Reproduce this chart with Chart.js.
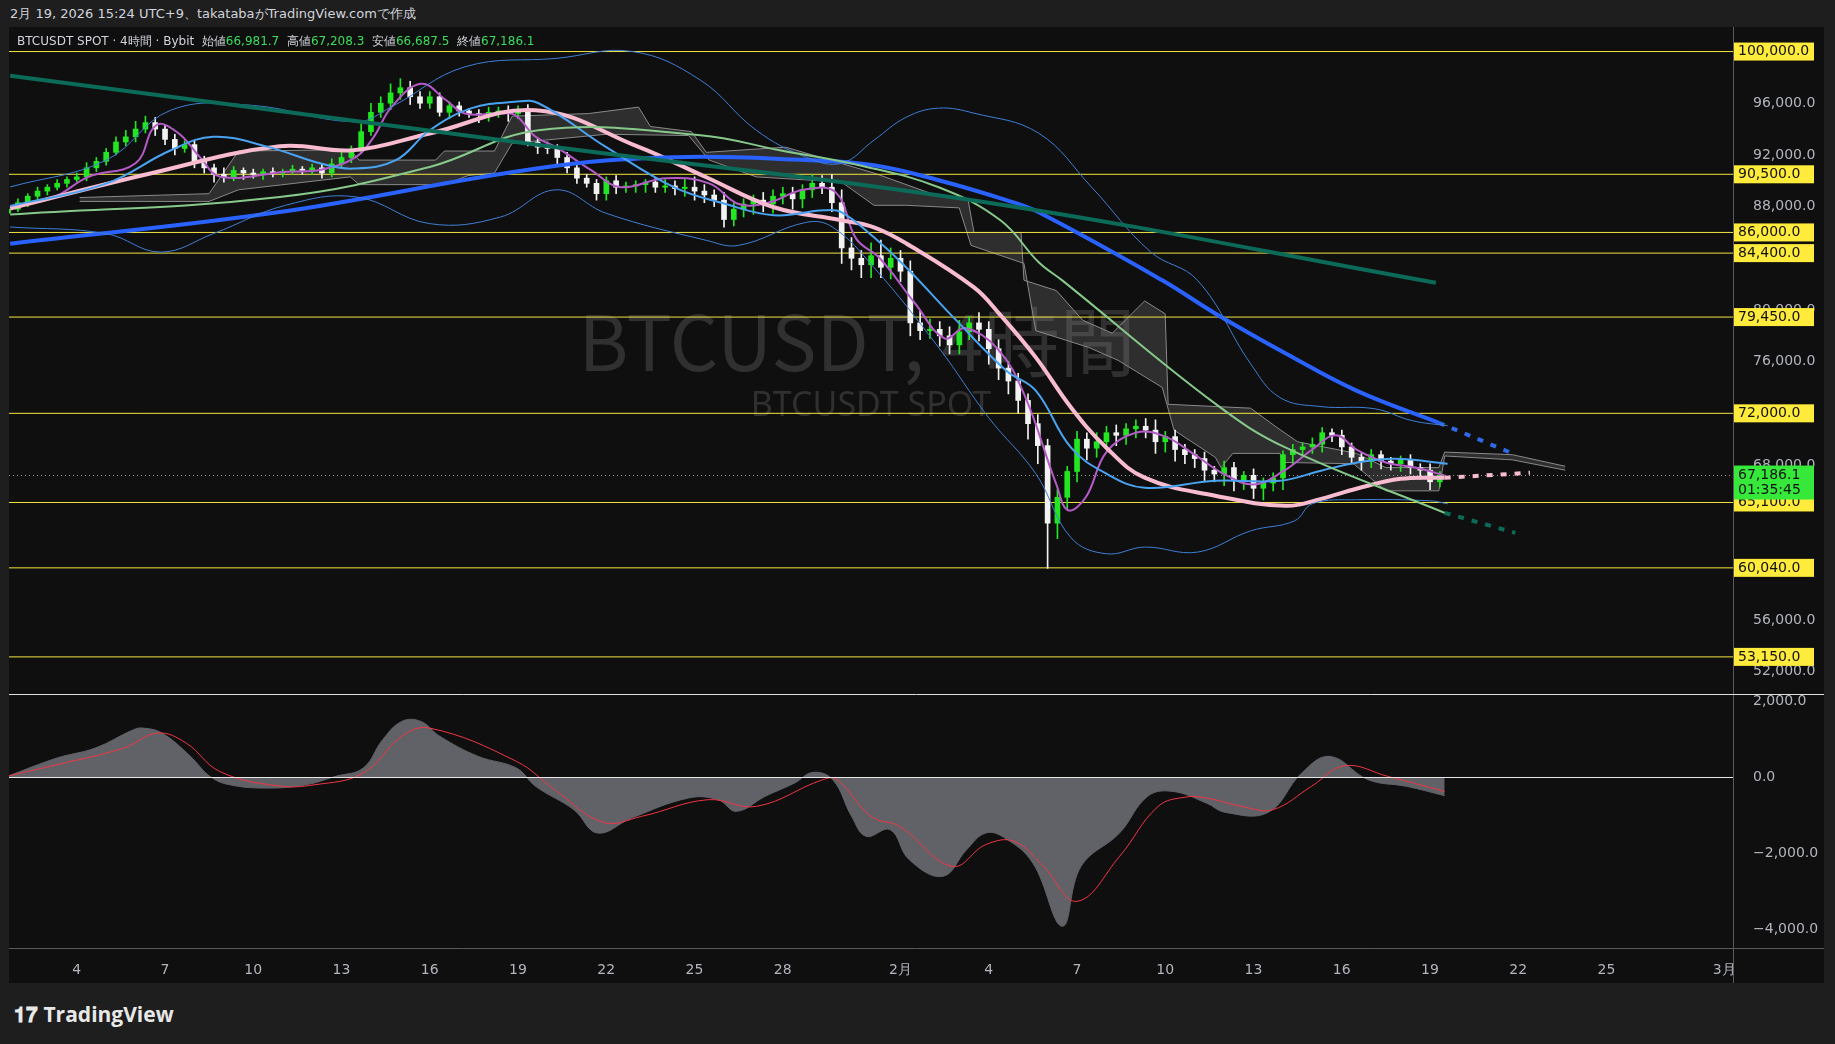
<!DOCTYPE html>
<html>
<head>
<meta charset="utf-8">
<script src="https://cdn.jsdelivr.net/npm/chart.js@4"></script>
<style>
  body { margin:0; background:#1e1e1e; width:1835px; height:1044px; overflow:hidden; font-family:"DejaVu Sans", sans-serif; }
  #hdr { position:absolute; left:10px; top:5px; color:#d1d4dc; font-size:13px; }
  #wrap { position:absolute; left:9px; top:27px; width:1815px; height:956px; background:#0f0f0f; }
  #c1 { position:absolute; left:0; top:0; }
  #c2 { position:absolute; left:0; top:668px; }
  #leg { position:absolute; left:8px; top:6px; color:#d1d4dc; font-size:12px; z-index:2; }
  #leg b { color:#3ddc5a; font-weight:normal; }
  #logo { position:absolute; left:14px; top:1000px; color:#e8e8e8; font-size:21px; font-weight:bold; font-family:"Open Sans", sans-serif; }
</style>
</head>
<body>
<div id="hdr">2月 19, 2026 15:24 UTC+9、takatabaがTradingView.comで作成</div>
<div id="wrap">
  <div id="leg">BTCUSDT SPOT · 4時間 · Bybit&nbsp; 始値<b>66,981.7</b>&nbsp; 高値<b>67,208.3</b>&nbsp; 安値<b>66,687.5</b>&nbsp; 終値<b>67,186.1</b></div>
  <canvas id="c1" width="1815" height="668"></canvas>
  <canvas id="c2" width="1815" height="288"></canvas>
</div>
<div id="logo">𝟏𝟕 TradingView</div>
<script>
// x = day number counted from 1 Jan (1 Feb = 32, 1 Mar = 60); bars every 8h
var startDay = 1.67;
var firstOpen = 87500;
var closes = [
  87800,
  88300, 88800, 89200,   // Jan 2
  89500, 89800, 90100,
  90300, 91000, 91500,
  92200, 93000, 93400,
  94000, 94500, 94000,   // Jan 6
  93200, 92500, 92800,
  91500, 91000, 90500,
  90300, 90800, 90600,
  90500, 90700, 90600,   // Jan 10
  90700, 90900, 90800,
  91000, 90600, 91300,
  91800, 92300, 93800,
  95300, 96000, 96800,   // Jan 14
  97200, 96500, 96000,
  96500, 95300, 95800,
  95400, 95200, 95100,
  95300, 95400, 95200,   // Jan 18
  95500, 93000, 92600,
  92500, 91800, 91000,
  90200, 89800, 89000,
  90000, 89500, 89600,   // Jan 22
  89700, 89900, 89500,
  89600, 89400, 89500,
  89200, 88900, 88500,
  87000, 87800, 88200,   // Jan 26
  88500, 88200, 88800,
  89000, 88600, 89300,
  89800, 89500, 88300,
  84800, 84000, 83500,   // Jan 30
  84200, 83300, 84000,
  83000, 79000, 78400,   // Feb 1
  78500, 78000, 77300,
  78300, 79000, 78500,
  77000, 75500, 74500,   // Feb 4
  73000, 71200, 69500,
  63500, 65500, 67500,
  70000, 69300, 69800,
  70500, 70300, 70800,   // Feb 8
  71000, 70700, 69800,
  70200, 69200, 68800,
  68500, 67600, 67300,
  67800, 66800, 67200,   // Feb 12
  66200, 66600, 67000,
  68800, 69200, 69400,
  69600, 70500, 70300,
  69400, 68600, 68300,   // Feb 16
  68800, 68300, 68100,
  68400, 67800, 67600,
  66700, 67186.1
];
// wick lengths above / below the body, in hundreds (one row = ten days)
var wickUp = [
  2,
  3,2,3,  2,3,2,  3,4,3,  3,4,5,  6,5,4,  3,4,3,  3,4,3,  5,3,2,  3,2,3,  2,3,2,     // Jan 2-11
  3,3,4,  5,4,6,  7,5,7,  7,5,4,  4,3,3,  3,2,3,  4,3,4,  3,4,3,  4,3,4,  4,3,3,     // Jan 12-21
  3,4,3,  3,2,3,  5,4,6,  8,5,4,  6,5,4,  4,6,5,  5,5,4,  7,6,10, 10,8,6, 10,12,8,   // Jan 22-31
  6,8,9,  8,6,7,  9,5,8,  6,7,5,  6,5,7,  5,6,4,  6,5,7,  5,6,4,  5,6,8,  4,5,4,     // Feb 1-10
  4,5,3,  5,4,3,  5,4,4,  3,4,3,  5,4,3,  4,3,3,                                     // Feb 11-16
  4,3,3,  3,4,3,                                                                      // Feb 17-18
  5,3
];
var wickDn = [
  2,
  2,3,2,  3,2,3,  2,3,3,  3,2,3,  4,3,5,  4,5,3,  5,4,6,  4,3,5,  3,4,3,  3,2,3,     // Jan 2-11
  3,4,3,  3,4,2,  3,4,5,  5,6,4,  4,3,5,  4,3,6,  5,4,6,  4,3,5,  4,5,4,  4,3,5,     // Jan 12-21
  5,5,4,  5,6,4,  4,5,6,  7,6,5,  6,5,6,  8,6,7,  6,8,7,  6,5,7,  12,9,10, 10,8,9,   // Jan 22-31
  8,10,7, 6,8,7,  7,6,9,  12,9,10, 10,12,14, 35,12,9, 8,9,7, 6,8,7, 7,6,9, 8,9,7,    // Feb 1-10
  7,8,6,  9,8,7,  8,9,6,  9,7,6,  5,6,5,  6,5,7,                                     // Feb 11-16
  5,6,5,  6,5,7,                                                                      // Feb 17-18
  6,4
];

var levels = [100000, 90500, 86000, 84400, 79450, 72000, 65100, 60040, 53150];
var lastPrice = 67186.1;
var countdown = '01:35:45';
var priceTicks = [52000, 56000, 68000, 76000, 80000, 88000, 92000, 96000];
var macdTicks = [-4000, -2000, 0, 2000];

var tealLine = [[1.74,98120],[20.3,92600],[35,88300],[50.2,82100]];
var blueThick = [[1.74,85130],[10.9,87580],[19.7,90970],[24.3,91820],[28.8,91600],[31.1,91200],[33.3,90040],[35.6,88500],[36.7,87560],[40.9,82300],[42.7,79730],[45.1,76630],[47.5,73760],[50.3,71270]];
var blueThickExt = [[50.3,71270],[52.8,68900]];
var pinkLine = [[1.74,87850],[6.5,90560],[10.9,92670],[13.4,92360],[16,93660],[19.6,95460],[23.1,92620],[25.4,90270],[27.7,87950],[30,86940],[31.1,86400],[32.2,85150],[34.5,81750],[35.4,79600],[36.6,76330],[37.8,72450],[39,69340],[40.3,67020],[42.7,65620],[45.1,64840],[46.3,65380],[47.5,66160],[49,66930],[50.5,67010]];
var pinkExt = [[50.5,67010],[53.4,67400]];
var greenLine = [[1.74,87380],[10.9,88750],[16,91070],[19.7,93910],[25.2,93530],[27.9,92360],[30.6,91200],[33.3,89500],[35.4,86940],[36.7,83690],[37.5,82290],[42.7,72750],[45.1,69340],[50.5,64300]];
var greenExt = [[50.5,64300],[52.9,62750]];
var bbMid = [[1.74,88050],[5,89780],[7.2,92360],[8.65,93400],[10.5,92620],[12.3,91330],[13.4,90940],[14.85,91590],[16,93910],[17.4,95600],[18.9,96110],[19.7,96000],[22,92600],[24.3,89500],[26,88240],[27.7,87330],[29.4,87710],[30,87560],[31.1,85620],[32.2,83290],[33.9,79190],[35.6,75300],[36.6,73760],[37.8,69340],[39,67330],[40.3,66240],[42.7,66780],[44.9,66780],[46.3,67560],[47.5,68180],[48.8,68490],[50.6,68100]];
var bbUp = [[1.74,89520],[5,91590],[7.2,95460],[9.9,95850],[13.5,94560],[14.7,95720],[17.2,98820],[20.3,99470],[22.9,100000],[25.2,97790],[27.1,93910],[28.8,91820],[30,91360],[31.1,93140],[32.2,94920],[33.3,95620],[34.5,95230],[36.7,93680],[38.5,89500],[40.5,84500],[42.1,82290],[43.9,75850],[44.9,73220],[46.3,72520],[48.1,72360],[49.4,71430],[50.6,71040]];
var bbLo = [[1.74,86420],[5,85910],[6.85,84480],[8.65,85910],[11.1,88100],[13.5,88750],[16,86680],[18.4,87190],[20.3,89300],[22,87480],[25.4,85390],[26.5,85000],[28.8,86780],[29.7,86400],[31.1,83290],[33.3,77090],[35,71660],[36.6,67330],[37.8,62370],[39,61130],[40.3,61650],[42.1,61260],[43.9,62900],[45.4,63680],[46,65000],[47.5,65310],[50,65230],[50.6,65000]];
var purpleLine = [[1.74,87950],[3.2,88700],[4.4,90300],[6,91350],[6.7,94300],[7.45,93700],[8.2,91800],[8.9,90300],[11.1,90700],[12.3,90850],[13.5,91850],[14.1,93400],[14.7,95700],[15.7,97500],[16.55,96250],[17.2,95200],[18.4,95200],[18.9,95100],[19.6,93400],[20.3,92600],[21.5,90800],[22.5,89500],[24,90200],[25.5,89800],[26.5,88200],[27.5,88300],[28.7,89300],[29.8,89100],[30.5,85500],[31.3,84000],[32.5,80500],[33.5,77800],[34.2,78600],[35.3,77000],[36.2,73500],[37.3,66500],[37.7,64500],[38.3,65500],[39,69000],[40,70500],[41,70200],[42,68800],[43,67300],[44,66500],[45,67500],[46,69200],[46.8,70300],[47.5,69200],[48.5,68200],[49.5,67800],[50.5,67200]];
var cloudTop = [[4.1,88700],[8.5,89000],[9.5,92300],[13.3,92400],[13.6,91600],[16.2,91600],[16.5,92300],[18.2,92300],[18.8,95000],[21.4,95200],[23.1,95700],[23.5,94200],[24.9,93800],[25.4,92200],[28.1,92600],[31.1,90600],[33.3,88800],[34.3,88500],[34.5,86000],[36.1,86000],[36.2,82300],[37.3,81500],[38.2,79200],[39.2,78200],[40.3,80700],[41,79700],[41.1,72700],[43.9,72400],[44.8,70900],[45.5,69800],[47.5,68900],[48.5,67800],[50.3,67800],[50.5,69000],[52.8,68800],[54.6,67900]];
var cloudBot = [[4.1,88400],[8.5,88400],[9.5,89300],[13.3,90300],[13.6,89700],[16.5,89700],[17.3,90400],[18.2,90600],[18.8,92900],[22,93600],[24.8,93500],[25.5,91600],[27.1,90300],[30,89900],[31.1,88100],[32.2,88100],[34,87900],[34.4,85000],[36.2,83600],[36.6,78400],[38.4,77100],[39.4,76100],[40.9,74000],[41.3,70700],[42.7,68600],[42.9,67800],[43.3,68900],[44.9,68900],[45,68200],[47.4,68100],[48.5,66000],[50.3,66000],[50.5,68700],[52.8,68400],[54.6,67600]];

var macdLine = [[1.7,35],[3.33,500],[4.63,763],[5.93,1245],[6.25,1290],[6.9,1158],[7.87,544],[8.53,18],[9.19,-202],[10.5,-290],[11.8,-202],[12.8,18],[13.74,237],[14.4,982],[15.05,1465],[15.7,1465],[16.35,1070],[17.65,544],[18.95,237],[19.6,-245],[20.9,-860],[21.7,-1473],[22.86,-1079],[24.8,-552],[25.8,-596],[26.43,-903],[27.4,-509],[28.4,-158],[29.03,123],[29.7,-70],[30.34,-1035],[30.83,-1561],[31.65,-1386],[32.3,-2175],[33.44,-2613],[34.25,-1912],[34.9,-1473],[35.55,-1605],[36.5,-2263],[37.5,-3929],[38.14,-2350],[39.45,-1473],[40.4,-509],[41.25,-377],[42.4,-684],[43.04,-930],[44.5,-930],[45.64,105],[46.6,544],[47.9,-70],[49.2,-245],[50.5,-491]];
var signalLine = [[1.7,35],[3.33,325],[5.6,763],[6.75,1158],[7.72,895],[8.86,149],[10.8,-228],[12.1,-202],[13.74,105],[15.05,1070],[16,1290],[18.95,412],[20.25,-333],[21.9,-1193],[23.2,-1035],[25.45,-596],[27.1,-772],[29.36,-70],[29.85,-70],[31,-1035],[31.97,-1298],[33.76,-2350],[34.9,-1780],[35.87,-1693],[36.86,-2350],[38,-3271],[39.45,-2087],[40.76,-772],[41.7,-526],[42.4,-552],[43.7,-789],[44.66,-860],[45.97,-245],[47.1,298],[48.57,18],[50.5,-377]];
var dayTicks = [4, 7, 10, 13, 16, 19, 22, 25, 28, 32, 35, 38, 41, 44, 47, 50, 53, 56, 60];

var X_MIN = 1.7, X_MAX = 60.3, AXIS_W = 91;
var P_MIN = 50200, P_MAX = 101900;
function pts(a) { return a.map(function (p) { return { x: p[0], y: p[1] }; }); }
function fmt(v) { return (v < 0 ? '\u2212' : '') + Math.abs(v).toLocaleString('en-US', { minimumFractionDigits: 1, maximumFractionDigits: 1 }); }

var bodies = [], wicks = [], bodyCols = [];
var prev = firstOpen;
closes.forEach(function (c, i) {
  var x = startDay + i / 3;
  var o = prev;
  bodies.push({ x: x, y: [o, c] });
  wicks.push({ x: x, y: [Math.min(o, c) - wickDn[i] * 100, Math.max(o, c) + wickUp[i] * 100] });
  bodyCols.push(c >= o ? '#22e622' : '#f2f2f2');
  prev = c;
});

function line(data, color, width, extra) {
  return Object.assign({ type: 'line', data: pts(data), borderColor: color, borderWidth: width, pointRadius: 0, tension: 0.4, fill: false, order: 1 }, extra || {});
}

var datasets = [
  line(cloudTop, '#8a8a8a', 1, { tension: 0, fill: '+1', backgroundColor: 'rgba(130,130,130,0.28)', order: 9 }),
  line(cloudBot, '#8a8a8a', 1, { tension: 0, order: 9 }),
  { type: 'bar', data: wicks, backgroundColor: bodyCols, barThickness: 1, grouped: false, order: 6 },
  { type: 'bar', data: bodies, backgroundColor: bodyCols, barThickness: 5, minBarLength: 1, grouped: false, order: 5 },
  line(tealLine, '#0b6b58', 4),
  line(greenLine, '#86c98a', 2),
  line(bbUp, '#3f7fd6', 1),
  line(bbLo, '#3f7fd6', 1),
  line(bbMid, '#4aa3f0', 2),
  line(blueThick, '#2962ff', 4),
  line(pinkLine, '#f8bbd0', 4),
  line(purpleLine, '#b45bc8', 2),
  line(blueThickExt, '#2f6ae8', 4, { borderDash: [6, 8], tension: 0 }),
  line(pinkExt, '#f8bbd0', 4, { borderDash: [6, 8], tension: 0 }),
  line(greenExt, '#0b6b58', 4, { borderDash: [6, 8], tension: 0 }),
  line([[X_MIN, lastPrice], [X_MAX, lastPrice]], '#9a9a9a', 1, { borderDash: [1, 3], tension: 0, order: 8 })
];
levels.forEach(function (v) {
  datasets.push(line([[X_MIN, v], [X_MAX, v]], '#f5e642', 1, { tension: 0, order: 8 }));
});

// right-axis labels drawn by hand (chart.js tick padding would shrink the plot area)
function drawTicks(c, a, y, list) {
  c.fillStyle = '#b2b5be';
  c.font = '14px "DejaVu Sans", sans-serif';
  c.textBaseline = 'middle'; c.textAlign = 'left';
  list.forEach(function (v) { c.fillText(fmt(v), a.right + 20, y.getPixelForValue(v)); });
}

var badges = {
  id: 'badges',
  beforeDatasetsDraw: function (chart) {
    var c = chart.ctx;
    c.save();
    c.fillStyle = '#303030';
    c.font = '76px "Noto Sans CJK JP", "Noto Sans", sans-serif';
    c.textAlign = 'center'; c.textBaseline = 'middle';
    c.fillText('BTCUSDT, 4時間', 848, 315);
    c.font = '34px "Noto Sans", sans-serif';
    c.fillText('BTCUSDT SPOT', 862, 379);
    c.restore();
  },
  afterDraw: function (chart) {
    var c = chart.ctx, a = chart.chartArea, y = chart.scales.y;
    c.save();
    drawTicks(c, a, y, priceTicks);
    c.strokeStyle = '#5a5a5a'; c.lineWidth = 1;
    c.beginPath(); c.moveTo(a.right + 0.5, 0); c.lineTo(a.right + 0.5, chart.height); c.stroke();
    c.font = '14px "DejaVu Sans", sans-serif';
    c.textBaseline = 'middle'; c.textAlign = 'left';
    levels.forEach(function (v) {
      var py = y.getPixelForValue(v);
      c.fillStyle = '#ffeb3b';
      c.fillRect(a.right + 1, py - 9, 80, 18);
      c.fillStyle = '#111';
      c.fillText(fmt(v), a.right + 5, py);
    });
    var py = y.getPixelForValue(lastPrice);
    c.fillStyle = '#35e83a';
    c.fillRect(a.right + 1, py - 10, 80, 34);
    c.fillStyle = '#111';
    c.fillText(fmt(lastPrice), a.right + 5, py);
    c.fillText(countdown, a.right + 5, py + 15);
    c.strokeStyle = '#e0e0e0';
    c.beginPath(); c.moveTo(0, chart.height - 0.5); c.lineTo(chart.width, chart.height - 0.5); c.stroke();
    c.restore();
  }
};

new Chart(document.getElementById('c1'), {
  type: 'bar',
  data: { datasets: datasets },
  plugins: [badges],
  options: {
    responsive: false, animation: false,
    layout: { padding: 0 },
    plugins: { legend: { display: false }, tooltip: { enabled: false } },
    scales: {
      x: { type: 'linear', min: X_MIN, max: X_MAX, offset: false, display: false },
      y: {
        position: 'right', min: P_MIN, max: P_MAX,
        grid: { display: false }, border: { display: false },
        afterFit: function (s) { s.width = AXIS_W; },
        ticks: { display: false }
      }
    }
  }
});

var macdDeco = {
  id: 'macdDeco',
  afterDraw: function (chart) {
    var c = chart.ctx, a = chart.chartArea, y = chart.scales.y;
    c.save();
    drawTicks(c, a, y, macdTicks);
    c.strokeStyle = '#e8e8e8'; c.lineWidth = 1;
    var z = Math.round(y.getPixelForValue(0)) + 0.5;
    c.beginPath(); c.moveTo(0, z); c.lineTo(a.right, z); c.stroke();
    c.strokeStyle = '#5a5a5a';
    c.beginPath(); c.moveTo(a.right + 0.5, 0); c.lineTo(a.right + 0.5, chart.height); c.stroke();
    c.beginPath(); c.moveTo(0, a.bottom + 0.5); c.lineTo(chart.width, a.bottom + 0.5); c.stroke();
    c.restore();
  }
};

new Chart(document.getElementById('c2'), {
  type: 'line',
  data: {
    datasets: [
      { data: pts(macdLine), borderColor: '#606268', backgroundColor: '#606268', borderWidth: 1, fill: 'origin', pointRadius: 0, tension: 0.4, order: 2 },
      { data: pts(signalLine), borderColor: '#f23645', borderWidth: 1, fill: false, pointRadius: 0, tension: 0.4, order: 1 }
    ]
  },
  plugins: [macdDeco],
  options: {
    responsive: false, animation: false,
    layout: { padding: 0 },
    plugins: { legend: { display: false }, tooltip: { enabled: false } },
    scales: {
      x: {
        type: 'linear', min: X_MIN, max: X_MAX,
        grid: { display: false }, border: { display: false },
        afterFit: function (s) { s.height = 35; },
        afterBuildTicks: function (s) { s.ticks = dayTicks.map(function (v) { return { value: v }; }); },
        ticks: {
          color: '#b2b5be', font: { size: 14, family: 'DejaVu Sans' }, maxRotation: 0, autoSkip: false, padding: 6,
          callback: function (v) { return v === 32 ? '2月' : v === 60 ? '3月' : String(v > 31 ? v - 31 : v); }
        }
      },
      y: {
        position: 'right', min: -4500, max: 2160,
        grid: { display: false }, border: { display: false },
        afterFit: function (s) { s.width = AXIS_W; },
        ticks: { display: false }
      }
    }
  }
});
</script>
</body>
</html>
